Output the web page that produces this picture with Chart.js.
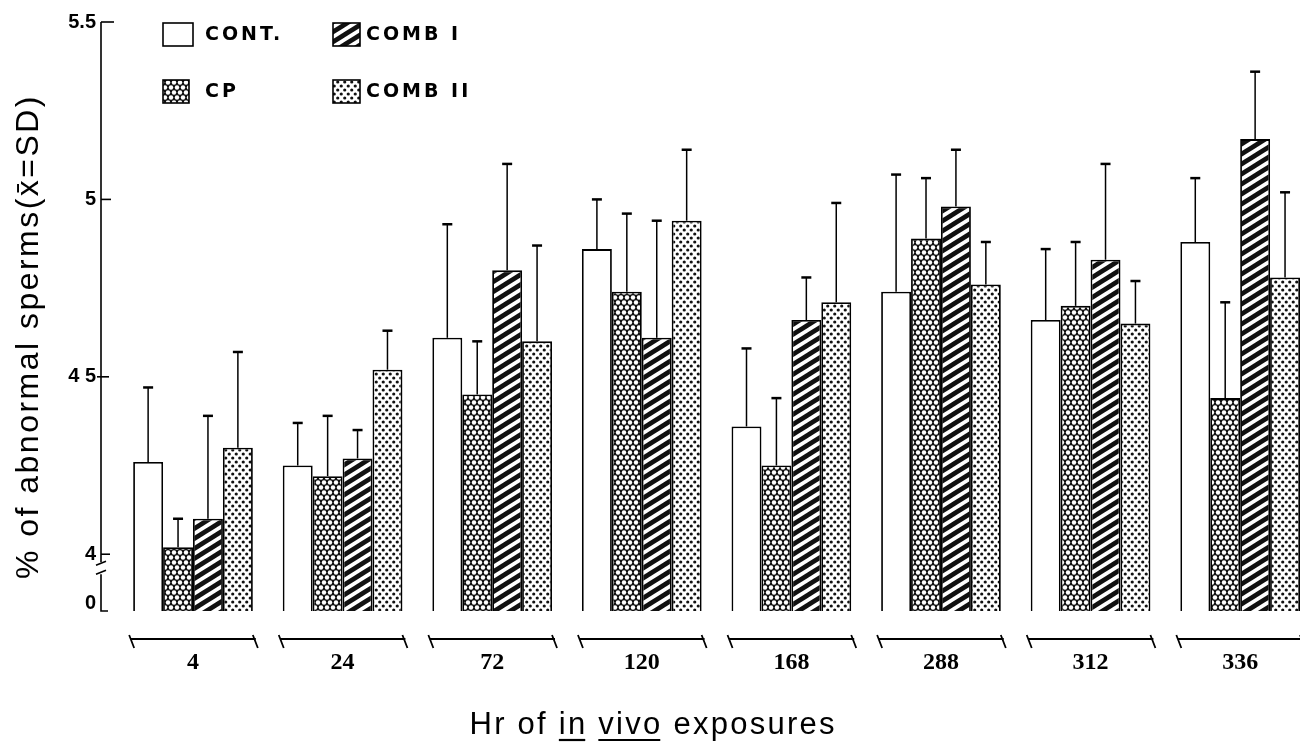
<!DOCTYPE html>
<html>
<head>
<meta charset="utf-8">
<script src="https://cdn.jsdelivr.net/npm/chart.js@4.4.1/dist/chart.umd.min.js"></script>
<style>
  html, body { margin: 0; padding: 0; background: #fff; overflow: hidden; }
</style>
</head>
<body>
<canvas id="c" width="1300" height="744"></canvas>
<script>
// data (mean and SD per exposure time)
const hours = ['4', '24', '72', '120', '168', '288', '312', '336'];
const seriesNames = ['CONT.', 'CP', 'COMB I', 'COMB II'];
const cont   = [4.26, 4.25, 4.61, 4.86, 4.36, 4.74, 4.66, 4.88];
const contSd = [0.21, 0.12, 0.32, 0.14, 0.22, 0.33, 0.20, 0.18];
const cp     = [4.02, 4.22, 4.45, 4.74, 4.25, 4.89, 4.70, 4.44];
const cpSd   = [0.08, 0.17, 0.15, 0.22, 0.19, 0.17, 0.18, 0.27];
const comb1   = [4.10, 4.27, 4.80, 4.61, 4.66, 4.98, 4.83, 5.17];
const comb1Sd = [0.29, 0.08, 0.30, 0.33, 0.12, 0.16, 0.27, 0.19];
const comb2   = [4.30, 4.52, 4.60, 4.94, 4.71, 4.76, 4.65, 4.78];
const comb2Sd = [0.27, 0.11, 0.27, 0.20, 0.28, 0.12, 0.12, 0.24];
// broken axis: the "0" sits just under the break
const yTicks = [3.862, 4, 4.5, 5, 5.5];
const yTickLabels = ['0', '4', '4 5', '5', '5.5'];

const canvas = document.getElementById('c');
const ctx0 = canvas.getContext('2d');

// --- hatch patterns ---
function tile(w, h, paint) {
    const t = document.createElement('canvas');
    t.width = w; t.height = h;
    paint(t.getContext('2d'), w, h);
    return ctx0.createPattern(t, 'repeat');
}
const hexPat = tile(6, 10, (g, w, h) => {
    g.fillStyle = '#111'; g.fillRect(0, 0, w, h);
    g.fillStyle = '#fff';
    [[0, 2.5], [6, 2.5], [3, 7.5], [3, -2.5], [0, 12.5], [6, 12.5]].forEach(p => {
        g.beginPath(); g.arc(p[0], p[1], 2.2, 0, Math.PI * 2); g.fill();
    });
});
const stripePat = tile(16, 10, (g, w, h) => {
    g.fillStyle = '#fff'; g.fillRect(0, 0, w, h);
    g.strokeStyle = '#111'; g.lineWidth = 4.8;
    for (let dy = -2 * h; dy <= 2 * h; dy += h) {
        g.beginPath();
        g.moveTo(-w, 2 * h + dy); g.lineTo(2 * w, -h + dy);
        g.stroke();
    }
});
const dotPat = tile(7, 8, (g, w, h) => {
    g.fillStyle = '#fff'; g.fillRect(0, 0, w, h);
    g.fillStyle = '#111';
    [[1.75, 2], [5.25, 6]].forEach(p => {
        g.beginPath(); g.arc(p[0], p[1], 1.6, 0, Math.PI * 2); g.fill();
    });
});

const means = [cont, cp, comb1, comb2];
const sds = [contSd, cpSd, comb1Sd, comb2Sd];
const fills = ['#ffffff', hexPat, stripePat, dotPat];

const datasets = seriesNames.map((name, k) => ({
    label: name,
    data: hours.map((h, i) => ({ x: i, y: means[k][i] })),
    sd: sds[k],
    backgroundColor: fills[k],
    borderColor: '#000',
    borderWidth: 1.8,
    borderSkipped: false,
    categoryPercentage: 0.8,
    barPercentage: 1.0
}));

// error bars (upper half only)
const errorBars = {
    id: 'errorBars',
    afterDatasetsDraw(chart) {
        const ctx = chart.ctx, y = chart.scales.y;
        chart.data.datasets.forEach((ds, di) => {
            chart.getDatasetMeta(di).data.forEach((bar, i) => {
                const top = y.getPixelForValue(ds.data[i].y + ds.sd[i]);
                ctx.save();
                ctx.strokeStyle = '#000';
                ctx.lineWidth = 1.5;
                ctx.beginPath(); ctx.moveTo(bar.x, bar.y); ctx.lineTo(bar.x, top); ctx.stroke();
                ctx.lineWidth = 2.5;
                ctx.beginPath(); ctx.moveTo(bar.x - 5, top); ctx.lineTo(bar.x + 5, top); ctx.stroke();
                ctx.restore();
            });
        });
    }
};

function spacedText(ctx, text, x, y, target) {
    ctx.letterSpacing = '0px';
    const w0 = ctx.measureText(text).width;
    const ls = (target - w0) / (text.length - 1);
    ctx.letterSpacing = ls + 'px';
    ctx.fillText(text, x, y);
    ctx.letterSpacing = '0px';
}

// axis line with break, group brackets, legend and titles
const decor = {
    id: 'decor',
    afterDraw(chart) {
        const ctx = chart.ctx, y = chart.scales.y;
        const area = chart.chartArea;
        const ax = area.left;
        ctx.save();
        ctx.strokeStyle = '#000';
        ctx.fillStyle = '#000';
        ctx.lineWidth = 1.6;

        // y axis
        const yTop = y.getPixelForValue(5.5);
        const y4 = y.getPixelForValue(4);
        ctx.beginPath();
        ctx.moveTo(ax, yTop); ctx.lineTo(ax, y4 + 8);
        ctx.moveTo(ax, y4 + 20); ctx.lineTo(ax, area.bottom); ctx.lineTo(ax + 7, area.bottom);
        ctx.stroke();
        ctx.beginPath();
        ctx.moveTo(ax - 5, y4 + 11); ctx.lineTo(ax + 5, y4 + 7);
        ctx.moveTo(ax - 5, y4 + 20); ctx.lineTo(ax + 5, y4 + 16);
        ctx.stroke();
        const tickLen = { 4: [0, 9], 4.5: [-4, 8], 5: [0, 10], 5.5: [0, 13] };
        yTicks.slice(1).forEach(v => {
            const py = y.getPixelForValue(v);
            const t = tickLen[v];
            ctx.beginPath(); ctx.moveTo(ax + t[0], py); ctx.lineTo(ax + t[1], py); ctx.stroke();
        });

        // brackets under each group
        const first = chart.getDatasetMeta(0).data;
        const last = chart.getDatasetMeta(3).data;
        ctx.lineWidth = 1.8;
        first.forEach((b, i) => {
            const l = b.x - b.width / 2 - 2;
            const r = last[i].x + last[i].width / 2 + 3;
            const by = area.bottom + 28;
            ctx.beginPath();
            ctx.moveTo(l, by); ctx.lineTo(r, by);
            ctx.moveTo(l - 2, by - 4); ctx.lineTo(l + 3, by + 9);
            ctx.moveTo(r - 3, by - 4); ctx.lineTo(r + 2, by + 9);
            ctx.stroke();
        });

        // legend
        const leg = [
            { x: 163, y: 23, w: 30, h: 23, tx: 205, label: seriesNames[0], fill: fills[0] },
            { x: 333, y: 23, w: 27, h: 23, tx: 366, label: seriesNames[2], fill: fills[2] },
            { x: 163, y: 80, w: 26, h: 23, tx: 205, label: seriesNames[1], fill: fills[1] },
            { x: 333, y: 80, w: 27, h: 23, tx: 366, label: seriesNames[3], fill: fills[3] }
        ];
        ctx.font = 'bold 19px "DejaVu Sans"';
        ctx.textBaseline = 'middle';
        ctx.textAlign = 'left';
        leg.forEach(e => {
            ctx.fillStyle = e.fill;
            ctx.fillRect(e.x, e.y, e.w, e.h);
            ctx.lineWidth = 1.6;
            ctx.strokeRect(e.x, e.y, e.w, e.h);
            ctx.fillStyle = '#000';
            ctx.letterSpacing = '3px';
            ctx.fillText(e.label, e.tx, e.y + e.h / 2 + 1);
            ctx.letterSpacing = '0px';
        });

        // y title
        ctx.save();
        ctx.translate(29, 337);
        ctx.rotate(-Math.PI / 2);
        ctx.font = '32px "Liberation Sans"';
        ctx.textAlign = 'left';
        ctx.textBaseline = 'middle';
        spacedText(ctx, '% of abnormal sperms(x\u0304=SD)', -242, 0, 485);
        ctx.restore();

        // x title with underlined words
        ctx.font = '31px "Liberation Sans"';
        ctx.textAlign = 'left';
        ctx.textBaseline = 'alphabetic';
        const parts = ['Hr of ', 'in', ' ', 'vivo', ' exposures'];
        const full = parts.join('');
        ctx.letterSpacing = '0px';
        const target = 365;
        const ls = (target - ctx.measureText(full).width) / (full.length - 1);
        ctx.letterSpacing = ls + 'px';
        let cx = 652 - target / 2;
        const base = 734;
        parts.forEach(p => {
            const w = ctx.measureText(p).width;
            ctx.fillText(p, cx, base);
            if (p === 'in' || p === 'vivo') {
                ctx.lineWidth = 2.2;
                ctx.beginPath(); ctx.moveTo(cx, base + 6); ctx.lineTo(cx + w - ls, base + 6); ctx.stroke();
            }
            cx += w;
        });
        ctx.letterSpacing = '0px';
        ctx.restore();
    }
};

new Chart(canvas, {
    type: 'bar',
    data: { datasets },
    options: {
        responsive: false,
        animation: false,
        devicePixelRatio: 1,
        layout: { padding: { top: 22, left: 0, right: 0, bottom: 0 } },
        plugins: { legend: { display: false }, tooltip: { enabled: false } },
        scales: {
            x: {
                type: 'linear',
                min: -0.615,
                max: 7.40,
                offset: false,
                grid: { display: false, drawTicks: false },
                border: { display: false },
                afterBuildTicks: s => { s.ticks = hours.map((h, i) => ({ value: i })); },
                ticks: {
                    callback: v => hours[v],
                    autoSkip: false,
                    maxRotation: 0,
                    color: '#000',
                    padding: 37,
                    font: { family: 'Liberation Serif', weight: 'bold', size: 24 }
                },
                afterFit: s => { s.height = 133; }
            },
            y: {
                min: 3.84,
                max: 5.5,
                grid: { display: false, drawTicks: false },
                border: { display: false },
                afterBuildTicks: s => { s.ticks = yTicks.map(v => ({ value: v })); },
                ticks: {
                    callback: (v, i) => yTickLabels[i],
                    color: '#000',
                    padding: 5,
                    font: { family: 'Liberation Sans', weight: 'bold', size: 20 }
                },
                afterFit: s => { s.width = 101; }
            }
        }
    },
    plugins: [errorBars, decor]
});
</script>
</body>
</html>
